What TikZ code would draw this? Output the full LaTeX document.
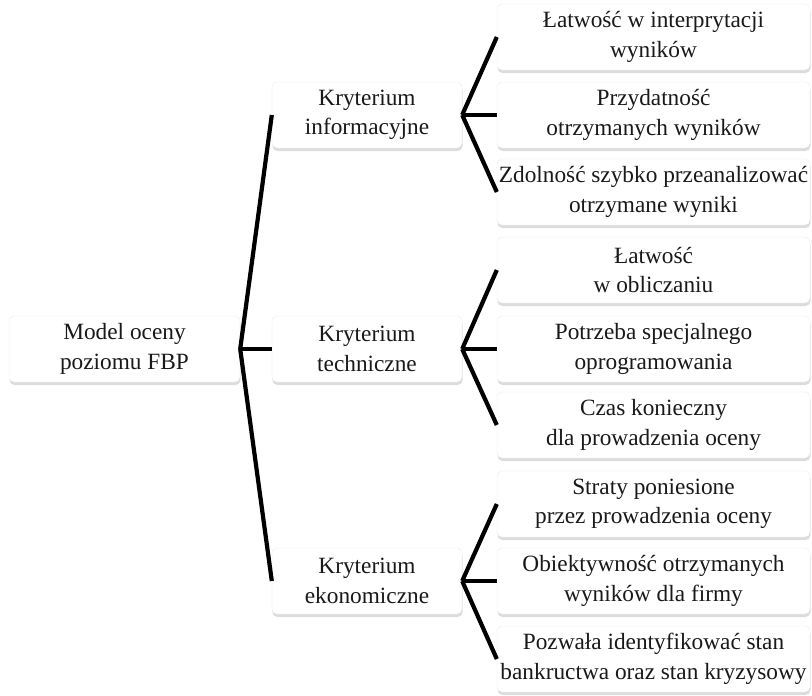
\documentclass[tikz,border=0pt]{standalone}
\usepackage{fontspec}
\setmainfont{Liberation Serif}
\usetikzlibrary{shadows}

\begin{document}
\begin{tikzpicture}[x=1pt, y=-1pt]

\tikzset{vertex/.style = {shape=rectangle, rounded corners=5pt, fill=white, draw=black!8, align=center, text=black!90, inner sep=0pt,
  font=\fontsize{23.3}{29.5}\selectfont, minimum height=66pt,
  drop shadow={shadow xshift=0.5pt, shadow yshift=-3pt, opacity=0.28}}}
\tikzset{edge/.style = {line width=4.2pt, black}}
\useasboundingbox (0,0) rectangle (812,696);
% vertices
\node[vertex, minimum width=231pt] (0) at (124.5,349) {Model oceny\\poziomu FBP};
\node[vertex, minimum width=190pt] (1) at (367,115) {Kryterium\\informacyjne};
\node[vertex, minimum width=190pt] (2) at (367,349) {Kryterium\\techniczne};
\node[vertex, minimum width=190pt] (3) at (367,581) {Kryterium\\ekonomiczne};
\node[vertex, minimum width=313pt] (1a) at (653.5,37) {Łatwość w interprytacji\\wyników};
\node[vertex, minimum width=313pt] (1b) at (653.5,115) {Przydatność\\otrzymanych wyników};
\node[vertex, minimum width=313pt] (1c) at (653.5,192) {Zdolność szybko przeanalizować\\otrzymane wyniki};
\node[vertex, minimum width=313pt] (2a) at (653.5,270) {Łatwość\\w obliczaniu};
\node[vertex, minimum width=313pt] (2b) at (653.5,349) {Potrzeba specjalnego\\oprogramowania};
\node[vertex, minimum width=313pt] (2c) at (653.5,425) {Czas konieczny\\dla prowadzenia oceny};
\node[vertex, minimum width=313pt] (3a) at (653.5,504) {Straty poniesione\\przez prowadzenia oceny};
\node[vertex, minimum width=313pt] (3b) at (653.5,581) {Obiektywność otrzymanych\\wyników dla firmy};
\node[vertex, minimum width=313pt] (3c) at (653.5,659) {Pozwała identyfikować stan\\bankructwa oraz stan kryzysowy};
%edges
\draw [edge] (0.east) -- (1.west);
\draw [edge] (0.east) -- (2.west);
\draw [edge] (0.east) -- (3.west);
\draw [edge] (1.east) -- (1a.west);
\draw [edge] (1.east) -- (1b.west);
\draw [edge] (1.east) -- (1c.west);
\draw [edge] (2.east) -- (2a.west);
\draw [edge] (2.east) -- (2b.west);
\draw [edge] (2.east) -- (2c.west);
\draw [edge] (3.east) -- (3a.west);
\draw [edge] (3.east) -- (3b.west);
\draw [edge] (3.east) -- (3c.west);
\end{tikzpicture}
\end{document}
